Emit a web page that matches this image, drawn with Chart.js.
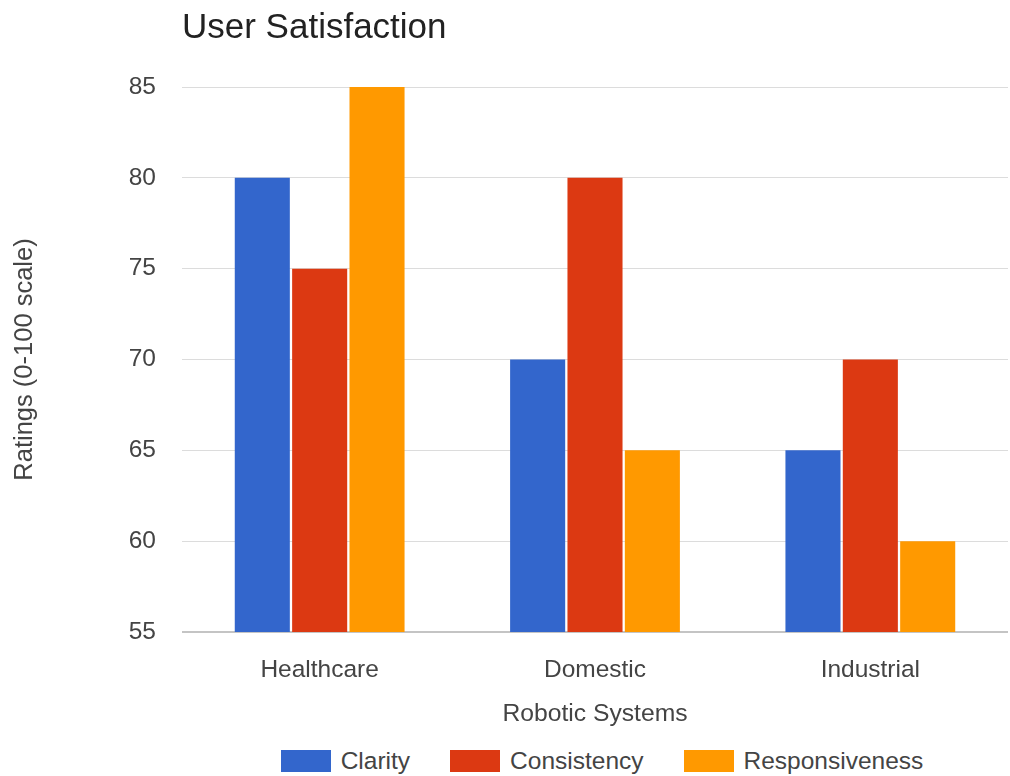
<!DOCTYPE html>
<html lang="en">
<head>
  <meta charset="UTF-8">
  <title>User Satisfaction</title>
  <script src="https://cdn.jsdelivr.net/npm/chart.js"></script>
  <style>
    body {
      margin: 0;
      background: #fff;
      font-family: Arial, 'Liberation Sans', sans-serif;
    }
    #wrap {
      position: relative;
      width: 1010px;
      height: 742px;
    }
    #legend {
      display: flex;
      justify-content: center;
      align-items: center;
      width: 1010px;
      height: 38px;
      box-sizing: border-box;
      padding-left: 196px;
      padding-right: 2px;
      font-size: 24.5px;
      color: #444;
    }
    .item {
      display: flex;
      align-items: center;
      margin: 0 20px;
    }
    .swatch {
      width: 50px;
      height: 22px;
      margin-right: 10px;
    }
  </style>
</head>
<body>
  <div id="wrap">
    <canvas id="chart"></canvas>
  </div>
  <div id="legend"></div>

  <script>
    const categories = ['Healthcare', 'Domestic', 'Industrial'];
    const seriesNames = ['Clarity', 'Consistency', 'Responsiveness'];
    const clarity = [80, 70, 65];
    const consistency = [75, 80, 70];
    const responsiveness = [85, 65, 60];
    const colors = ['#3366cc', '#dc3912', '#ff9900'];

    const seriesValues = [clarity, consistency, responsiveness];
    const textFont = "Arial, 'Liberation Sans', sans-serif";

    const datasets = seriesNames.map((name, i) => ({
      label: name,
      data: seriesValues[i],
      backgroundColor: colors[i],
      borderWidth: 0,
      categoryPercentage: 0.625,
      barPercentage: 0.96
    }));

    const ctx = document.getElementById('chart').getContext('2d');
    const myChart = new Chart(ctx, {
      type: 'bar',
      data: { labels: categories, datasets: datasets },
      options: {
        responsive: true,
        maintainAspectRatio: false,
        animation: false,
        layout: { padding: { left: 0, right: 2, top: 0, bottom: 0 } },
        plugins: {
          legend: { display: false },
          tooltip: { enabled: false },
          title: {
            display: true,
            text: 'User Satisfaction',
            align: 'start',
            fullSize: false,
            color: '#222',
            font: { family: textFont, size: 35, weight: 'normal' },
            padding: { top: 7, bottom: 38 }
          }
        },
        scales: {
          x: {
            grid: { display: false },
            border: { display: false },
            ticks: {
              color: '#444',
              padding: 16,
              font: { family: textFont, size: 24.5 }
            },
            title: {
              display: true,
              text: 'Robotic Systems',
              color: '#444',
              font: { family: textFont, size: 24.7 },
              padding: { top: 0, bottom: 13 }
            },
            afterFit: (scale) => { scale.height = 110; }
          },
          y: {
            min: 55,
            max: 85,
            border: { display: false },
            grid: {
              drawTicks: false,
              color: (c) => c.tick && c.tick.value === 55 ? '#c4c4c4' : '#dcdcdc',
              lineWidth: (c) => c.tick && c.tick.value === 55 ? 2 : 1
            },
            ticks: {
              stepSize: 5,
              color: '#444',
              padding: 26,
              font: { family: textFont, size: 24.5 }
            },
            title: {
              display: true,
              text: 'Ratings (0-100 scale)',
              color: '#444',
              font: { family: textFont, size: 25.5 },
              padding: { top: 10, bottom: 0 }
            },
            afterFit: (scale) => { scale.width = 182; }
          }
        }
      }
    });

    // html legend built from the chart's datasets
    const legendEl = document.getElementById('legend');
    myChart.data.datasets.forEach((ds) => {
      const item = document.createElement('div');
      item.className = 'item';
      const sw = document.createElement('span');
      sw.className = 'swatch';
      sw.style.background = ds.backgroundColor;
      const txt = document.createElement('span');
      txt.textContent = ds.label;
      item.appendChild(sw);
      item.appendChild(txt);
      legendEl.appendChild(item);
    });
  </script>
</body>
</html>
